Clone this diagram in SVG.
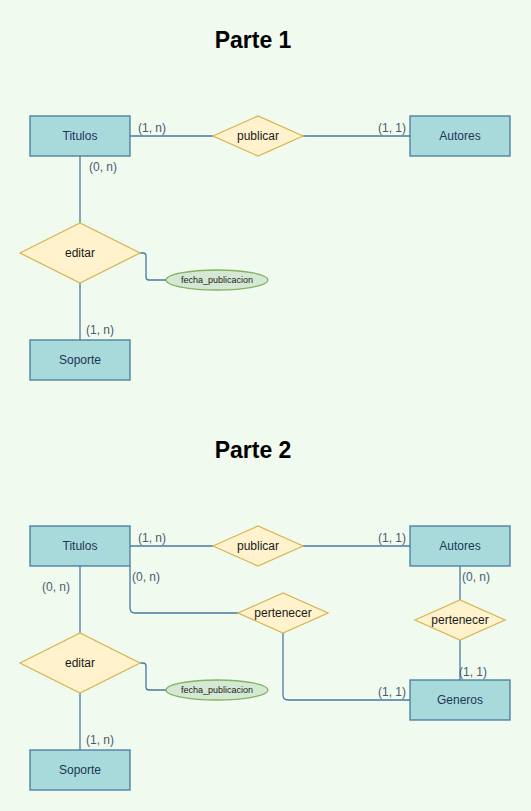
<svg xmlns="http://www.w3.org/2000/svg" width="531" height="811" viewBox="0 0 531 811">
<style>
.ent{fill:#A8DADC;stroke:#457B9D;stroke-width:1.3}
.rel{fill:#FFF2CC;stroke:#D6B656;stroke-width:1.3}
.att{fill:#D5E8D4;stroke:#82B366;stroke-width:1.3}
.et{font-family:"Liberation Sans",Arial,sans-serif;font-size:12px;fill:#1D3557;text-anchor:middle}
.rt{font-family:"Liberation Sans",Arial,sans-serif;font-size:12px;fill:#1a1a1a;text-anchor:middle}
.at{font-family:"Liberation Sans",Arial,sans-serif;font-size:9px;fill:#1a1a1a;text-anchor:middle}
.lb{font-family:"Liberation Sans",Arial,sans-serif;font-size:12px;fill:#4a5b70;text-anchor:middle}
.ttl{font-family:"Liberation Sans",Arial,sans-serif;font-size:23px;font-weight:bold;fill:#000;text-anchor:middle}
.cn{fill:none;stroke:#457B9D;stroke-width:1.3}
</style>
<rect width="531" height="811" fill="#F1FAEE"/>
<text class="ttl" x="253" y="48">Parte 1</text>
<text class="ttl" x="253" y="458">Parte 2</text>
<g id="connectors">
<path class="cn" d="M130,136 H213"/>
<path class="cn" d="M303,136 H410"/>
<path class="cn" d="M80,156 V223"/>
<path class="cn" d="M80,283 V340"/>
<path class="cn" d="M140,253 H143 Q146,253 146,256 V277 Q146,280 149,280 H166"/>
<path class="cn" d="M130,546 H213"/>
<path class="cn" d="M303,546 H410"/>
<path class="cn" d="M80,566 V633"/>
<path class="cn" d="M80,693 V750"/>
<path class="cn" d="M140,663 H143 Q146,663 146,666 V687 Q146,690 149,690 H166"/>
<path class="cn" d="M130,566 V608 Q130,613 135,613 H238"/>
<path class="cn" d="M283,633 V695 Q283,700 288,700 H410"/>
<path class="cn" d="M460,566 V600"/>
<path class="cn" d="M460,640 V680"/>
</g>
<g id="labels">
<text class="lb" x="152" y="132">(1, n)</text>
<text class="lb" x="392" y="132">(1, 1)</text>
<text class="lb" x="103" y="171">(0, n)</text>
<text class="lb" x="100" y="334">(1, n)</text>
<text class="lb" x="152" y="542">(1, n)</text>
<text class="lb" x="392" y="542">(1, 1)</text>
<text class="lb" x="56" y="591">(0, n)</text>
<text class="lb" x="146" y="581">(0, n)</text>
<text class="lb" x="476" y="581">(0, n)</text>
<text class="lb" x="473" y="676">(1, 1)</text>
<text class="lb" x="392" y="696">(1, 1)</text>
<text class="lb" x="100" y="744">(1, n)</text>
</g>
<g id="p1-titulos"><rect class="ent" x="30" y="116" width="100" height="40"/><text class="et" x="80" y="140">Titulos</text></g>
<g id="p1-publicar"><polygon class="rel" points="213,136 258,116 303,136 258,156"/><text class="rt" x="258" y="140">publicar</text></g>
<g id="p1-autores"><rect class="ent" x="410" y="116" width="100" height="40"/><text class="et" x="460" y="140">Autores</text></g>
<g id="p1-editar"><polygon class="rel" points="20,253 80,223 140,253 80,283"/><text class="rt" x="80" y="257">editar</text></g>
<g id="p1-fecha"><ellipse class="att" cx="217" cy="280" rx="51" ry="10"/><text class="at" x="217" y="283">fecha_publicacion</text></g>
<g id="p1-soporte"><rect class="ent" x="30" y="340" width="100" height="40"/><text class="et" x="80" y="364">Soporte</text></g>
<g id="p2-titulos"><rect class="ent" x="30" y="526" width="100" height="40"/><text class="et" x="80" y="550">Titulos</text></g>
<g id="p2-publicar"><polygon class="rel" points="213,546 258,526 303,546 258,566"/><text class="rt" x="258" y="550">publicar</text></g>
<g id="p2-autores"><rect class="ent" x="410" y="526" width="100" height="40"/><text class="et" x="460" y="550">Autores</text></g>
<g id="p2-pertenecer1"><polygon class="rel" points="238,613 283,593 328,613 283,633"/><text class="rt" x="283" y="617">pertenecer</text></g>
<g id="p2-pertenecer2"><polygon class="rel" points="415,620 460,600 505,620 460,640"/><text class="rt" x="460" y="624">pertenecer</text></g>
<g id="p2-generos"><rect class="ent" x="410" y="680" width="100" height="40"/><text class="et" x="460" y="704">Generos</text></g>
<g id="p2-editar"><polygon class="rel" points="20,663 80,633 140,663 80,693"/><text class="rt" x="80" y="667">editar</text></g>
<g id="p2-fecha"><ellipse class="att" cx="217" cy="690" rx="51" ry="10"/><text class="at" x="217" y="693">fecha_publicacion</text></g>
<g id="p2-soporte"><rect class="ent" x="30" y="750" width="100" height="40"/><text class="et" x="80" y="774">Soporte</text></g>
</svg>
